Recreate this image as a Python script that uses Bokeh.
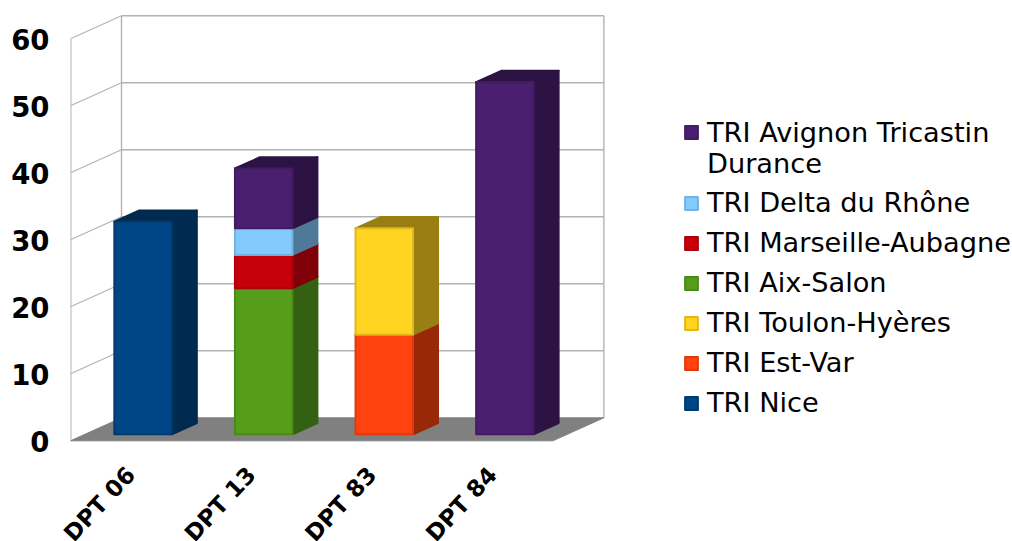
from bokeh.embed import file_html
from bokeh.resources import INLINE
from bokeh.plotting import figure
from bokeh.models import ColumnDataSource, FixedTicker, Legend, LegendItem, Range1d

categories = ["DPT 06", "DPT 13", "DPT 83", "DPT 84"]
y_ticks = [0, 10, 20, 30, 40, 50, 60]

series_names = ["TRI Nice", "TRI Est-Var", "TRI Toulon-Hyères", "TRI Aix-Salon",
                "TRI Marseille-Aubagne", "TRI Delta du Rhône", "TRI Avignon Tricastin"]
wrapped_line = "Durance"
nice = [32, 0, 0, 0]
est_var = [0, 0, 15, 0]
toulon = [0, 0, 16, 0]
aix = [0, 22, 0, 0]
marseille = [0, 5, 0, 0]
delta = [0, 4, 0, 0]
avignon = [0, 9, 0, 53]
series_values = [nice, est_var, toulon, aix, marseille, delta, avignon]

front_colors = ["#004586", "#ff420e", "#ffd320", "#579d1c", "#c5000b", "#83caff", "#4b1f6f"]
edge_colors = ["#003a70", "#e03a0c", "#e0b81c", "#4c8a18", "#ad000a", "#73b2e0", "#421b61"]
side_colors = ["#002a50", "#992808", "#997f13", "#346011", "#7f0007", "#4f7999", "#2d1343"]

# projection of the depth axis, in data units
CAT_PX = 120.6
VAL_PX = 6.7
DX = 51 / CAT_PX
DY = 23 / VAL_PX
BAR = 57.5 / CAT_PX
NEAR, FAR = 0.28, 0.77
BAR_SHIFT = 2 / CAT_PX
BAR_Y = 0.992
GRID = "#b3b3b3"
Y0, Y1 = -0.254, 64.52
LABEL_SHIFT = 0.15

p = figure(width=1012, height=533, output_backend="svg", toolbar_location=None,
           x_range=Range1d(0, 942 / CAT_PX), y_range=Range1d(Y0, Y1),
           min_border_left=70, min_border_right=0, min_border_top=8, min_border_bottom=91,
           frame_width=942, frame_height=434)
p.extra_y_ranges = {"labels": Range1d(Y0 + LABEL_SHIFT, Y1 + LABEL_SHIFT)}
p.outline_line_color = None
p.grid.visible = False
p.background_fill_color = "white"

# walls
n = len(categories)
for t in y_ticks[1:]:
    p.segment(0, t, DX, t + DY, line_color=GRID, line_width=1.2)
    p.segment(DX, t + DY, DX + n, t + DY, line_color=GRID, line_width=1.6)
p.segment(0, y_ticks[0], 0, y_ticks[-1], line_color=GRID, line_width=2)
p.segment(DX, DY, DX, y_ticks[-1] + DY, line_color=GRID, line_width=1.4)
p.segment(DX + n, DY, DX + n, y_ticks[-1] + DY, line_color=GRID, line_width=1.4)

# floor
p.patch([0, n, n + DX, DX], [0, 0, DY, DY], fill_color="#808080", line_color="#808080", line_width=1)

# bars
legend_items = []
base = [0.0] * n
d_x = (FAR - NEAR) * DX
d_y = (FAR - NEAR) * DY
for name, vals, fc, ec, sc in zip(series_names, series_values, front_colors, edge_colors, side_colors):
    idx = [i for i, v in enumerate(vals) if v > 0]
    l = [i + 0.5 - BAR / 2 + NEAR * DX - BAR_SHIFT for i in idx]
    r = [a + BAR for a in l]
    b = [base[i] * BAR_Y + NEAR * DY for i in idx]
    t = [(base[i] + vals[i]) * BAR_Y + NEAR * DY for i in idx]
    side = ColumnDataSource(dict(
        xs=[[a, a + d_x, a + d_x, a] for a in r],
        ys=[[c, c + d_y, e + d_y, e] for c, e in zip(b, t)]))
    top = ColumnDataSource(dict(
        xs=[[a, a + d_x, c + d_x, c] for a, c in zip(l, r)],
        ys=[[e, e + d_y, e + d_y, e] for e in t]))
    p.patches("xs", "ys", source=side, fill_color=sc, line_color=sc, line_width=2, line_join="round")
    p.patches("xs", "ys", source=top, fill_color=sc, line_color=sc, line_width=2, line_join="round")
    q = p.quad(left=l, right=r, bottom=b, top=t, fill_color=fc, line_color=ec, line_width=2, line_join="round")
    legend_items.append(LegendItem(label=name, renderers=[q]))
    for i in idx:
        base[i] += vals[i]

# axes
ya = p.yaxis[0]
ya.y_range_name = "labels"
ya.ticker = FixedTicker(ticks=y_ticks)
ya.axis_line_color = None
ya.major_tick_line_color = None
ya.minor_tick_line_color = None
ya.major_label_standoff = 15
ya.major_label_text_font = "DejaVu Sans"
ya.major_label_text_font_style = "bold"
ya.major_label_text_font_size = "27.5px"
ya.major_label_text_color = "black"

xa = p.xaxis[0]
xa.ticker = FixedTicker(ticks=[i + 0.5 for i in range(n)])
xa.major_label_overrides = {i + 0.5: c for i, c in enumerate(categories)}
xa.axis_line_color = None
xa.major_tick_line_color = None
xa.minor_tick_line_color = None
xa.major_label_orientation = 0.82
xa.major_label_standoff = 22
xa.major_label_text_font = "DejaVu Sans"
xa.major_label_text_font_style = "bold"
xa.major_label_text_font_size = "23px"
xa.major_label_text_color = "black"

legend_style = dict(orientation="vertical", border_line_color=None, background_fill_alpha=0,
                    padding=0, margin=0, glyph_width=16, glyph_height=16, label_standoff=8,
                    label_height=31, label_text_font="DejaVu Sans", label_text_font_size="27.2px",
                    label_text_color="black")

# the first entry wraps on two lines with its swatch on the first one
blank = p.quad(left=[], right=[], bottom=[], top=[], fill_alpha=0, line_alpha=0)
legend_top = Legend(items=[legend_items[-1], LegendItem(label=wrapped_line, renderers=[blank])],
                    location=(613, 263.5), spacing=0, **legend_style)
legend_rest = Legend(items=legend_items[-2::-1], location=(613, 24), spacing=9, **legend_style)
p.add_layout(legend_top, "center")
p.add_layout(legend_rest, "center")

open("out.html", "w").write(file_html(p, INLINE))
